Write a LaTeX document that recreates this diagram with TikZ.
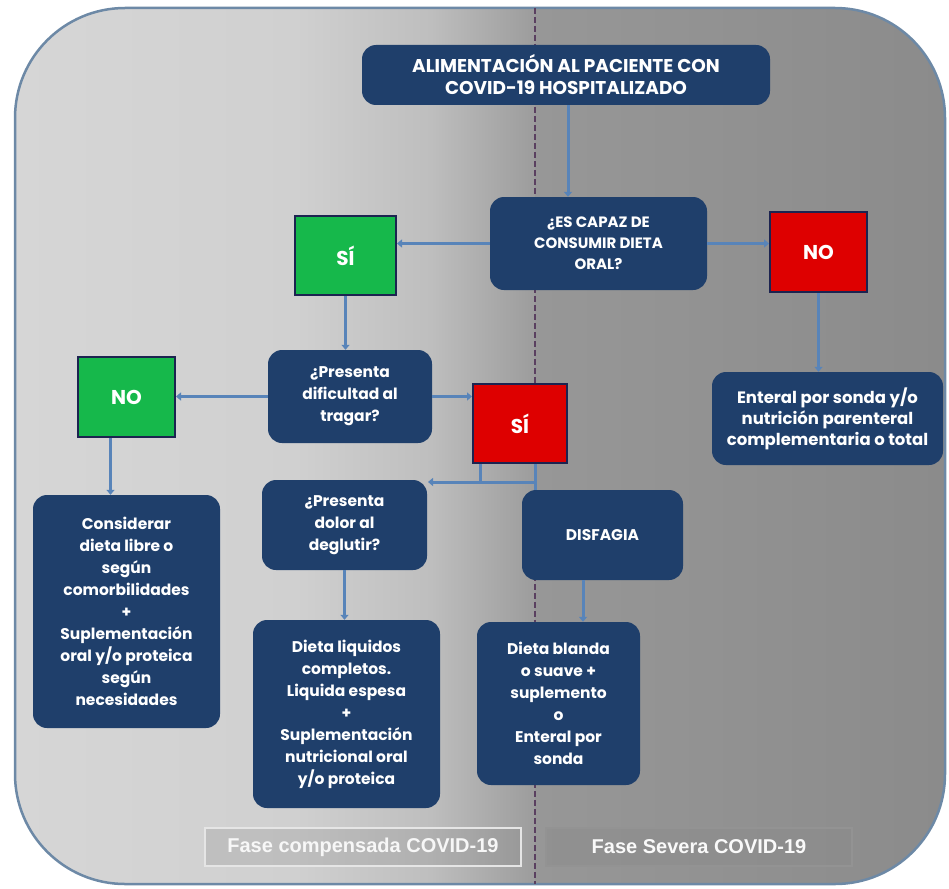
\documentclass[tikz,border=0pt]{standalone}
\usepackage{fontspec}
\newfontfamily\popf{Poppins}
\newfontfamily\arialf{Liberation Sans}
\usetikzlibrary{arrows.meta}
\definecolor{bgA}{HTML}{D6D6D6}
\definecolor{bgB}{HTML}{D0D0D0}
\definecolor{bgC}{HTML}{BEBEBE}
\definecolor{bgD}{HTML}{9C9C9C}
\definecolor{bgRa}{HTML}{979797}
\definecolor{bgRb}{HTML}{8B8B8B}
\definecolor{boxblue}{HTML}{1F3F6B}
\definecolor{okgreen}{HTML}{16B84B}
\definecolor{nored}{HTML}{DE0000}
\definecolor{navyline}{HTML}{1C2350}
\definecolor{connblue}{HTML}{5884B9}
\definecolor{framecol}{HTML}{6D89A6}
\definecolor{divcol}{HTML}{5A4060}
\pgfdeclarehorizontalshading{leftbg}{100bp}{color(0bp)=(bgA); color(25bp)=(bgA); color(52bp)=(bgB); color(65bp)=(bgC); color(75bp)=(bgD); color(100bp)=(bgD)}
\begin{document}
\begin{tikzpicture}[x=1pt,y=-1pt,
  box/.style={fill=boxblue, rounded corners=14pt, text=white, align=center, inner sep=2pt,
    font=\popf\bfseries\fontsize{15.5}{22}\selectfont},
  greenbox/.style={draw=navyline, line width=2pt, fill=okgreen, text=white,
    minimum width=97pt, minimum height=79pt, font=\popf\bfseries\fontsize{20}{22}\selectfont},
  redbox/.style={greenbox, fill=nored},
  conn/.style={draw=connblue, line width=3pt},
  arr/.style={conn, -{Triangle[length=5pt,width=8pt]}},
  fasebox/.style={draw=#1, line width=1.5pt, minimum height=38pt, inner sep=2pt,
    font=\arialf\bfseries\fontsize{20}{22}\selectfont},
  divider/.style={draw=divcol, line width=1.6pt, dash pattern=on 6pt off 3pt}
]
\useasboundingbox (0,0) rectangle (949,888);
\fill[white] (0,0) rectangle (949,888);
\begin{scope}
  \clip[rounded corners=110pt] (15,8) rectangle (945,884);
  \shade[shading=leftbg] (15,8) rectangle (535,884);
  \shade[left color=bgRa, right color=bgRb] (535,8) rectangle (945,884);
\end{scope}
\draw[draw=framecol, line width=2.5pt, rounded corners=110pt] (15,8) rectangle (945,884);

\coordinate (divtop) at (535,8);
\coordinate (divbot) at (535,884);
\draw[divider] (divtop) -- (divbot);

% nodes
\node[box, minimum width=408pt, minimum height=60pt, font=\popf\bfseries\fontsize{18.5}{22}\selectfont] (title) at (566,75) {ALIMENTACIÓN AL PACIENTE CON\\COVID-19 HOSPITALIZADO};
\node[box, minimum width=217pt, minimum height=93pt, font=\popf\bfseries\fontsize{15}{21}\selectfont] (q1) at (598.5,243.5) {¿ES CAPAZ DE\\CONSUMIR DIETA\\ORAL?};
\node[greenbox, minimum width=101pt] (si1) at (345.5,255.5) {SÍ};
\node[redbox, minimum height=80pt] (no1) at (818.5,252) {NO};
\node[box, minimum width=231pt, minimum height=93pt, font=\popf\bfseries\fontsize{16.5}{21}\selectfont] (enteral) at (827.5,418.5) {Enteral por sonda y/o\\nutrición parenteral\\complementaria o total};
\node[box, minimum width=164pt, minimum height=93pt] (q2) at (350,396.5) {¿Presenta\\dificultad al\\tragar?};
\node[greenbox, minimum height=80pt] (no2) at (126.5,397) {NO};
\node[redbox, minimum width=94pt] (si2) at (520,423.5) {SÍ};
\node[box, minimum width=187pt, minimum height=233pt] (consid) at (126.5,611.5) {Considerar\\dieta libre o\\según\\comorbilidades\\+\\Suplementación\\oral y/o proteica\\según\\necesidades};
\node[box, minimum width=165pt, minimum height=90pt] (q3) at (344.5,525) {¿Presenta\\dolor al\\deglutir?};
\node[box, minimum width=161pt, minimum height=90pt] (disf) at (602.5,535) {DISFAGIA};
\node[box, minimum width=187pt, minimum height=188pt] (dliq) at (346.5,714) {Dieta liquidos\\completos.\\Liquida espesa\\+\\Suplementación\\nutricional oral\\y/o proteica};
\node[box, minimum width=163pt, minimum height=163pt] (dbl) at (558.5,703.5) {Dieta blanda\\o suave +\\suplemento\\o\\Enteral por\\sonda};

\node[fasebox=white!80!gray, fill=black!50, fill opacity=0.22, text opacity=1, text=white!94!gray, minimum width=316pt] (f1) at (363,847) {Fase compensada COVID-19};
\node[fasebox=gray!85!white, fill=black!45, fill opacity=0.5, text opacity=1, text=white!95!gray, minimum width=306pt] (f2) at (699,847) {Fase Severa COVID-19};

% connectors
\draw[arr] ([xshift=2pt]title.south) -- ([xshift=2pt]title.south |- q1.north);
\draw[arr] (q1.west) -- (q1.west -| si1.east);
\draw[arr] (q1.east) -- (q1.east -| no1.west);
\draw[arr] (no1.south) -- (no1.south |- enteral.north);
\draw[arr] (si1.south) -- (si1.south |- q2.north);
\draw[arr] (q2.west) -- (q2.west -| no2.east);
\draw[arr] (q2.east) -- (q2.east -| si2.west);
\draw[arr] ([xshift=-16pt]no2.south) -- ([xshift=-16pt]no2.south |- consid.north);
\coordinate (busR) at (535,482);
\coordinate (busL) at (428,482);
\draw[conn] ([xshift=-40pt]si2.south) -- ([xshift=-40pt]si2.south |- busL);
\draw[conn] (si2.south -| busR) -- (busR) -- (busR |- disf.north);
\draw[arr] (busR) -- (busL);
\draw[arr] (q3.south) -- (q3.south |- dliq.north);
\draw[arr] ([xshift=-19.5pt]disf.south) -- ([xshift=-19.5pt]disf.south |- dbl.north);
\end{tikzpicture}
\end{document}
